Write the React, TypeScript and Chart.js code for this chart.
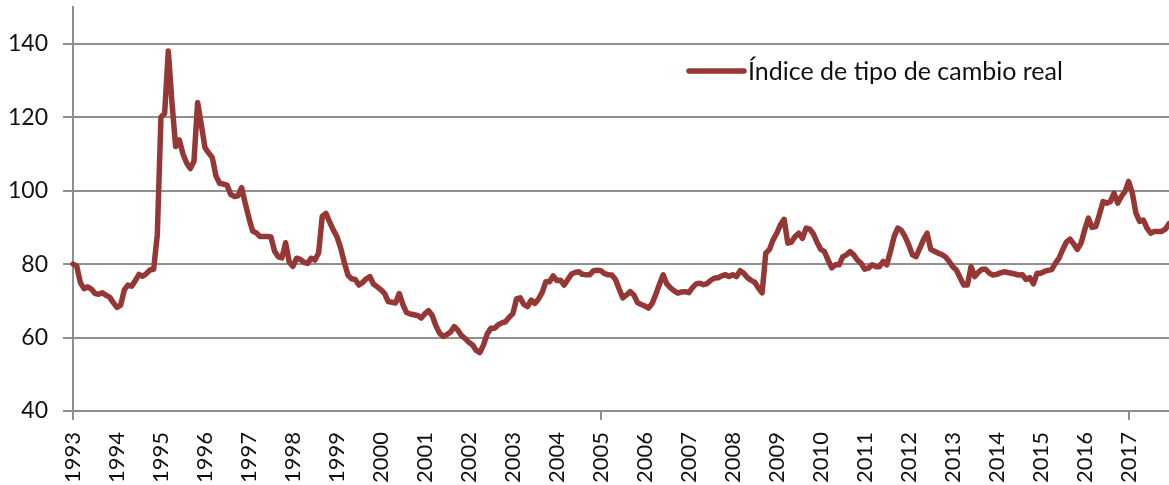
import React, { useEffect, useRef } from "react";
import { Chart, registerables } from "chart.js";

Chart.register(...registerables);

// Year tick labels (one per January)
const yearLabels = [
  "1993", "1994", "1995", "1996", "1997", "1998", "1999", "2000", "2001",
  "2002", "2003", "2004", "2005", "2006", "2007", "2008", "2009", "2010",
  "2011", "2012", "2013", "2014", "2015", "2016", "2017",
];
const monthNames = ["ene", "feb", "mar", "abr", "may", "jun", "jul", "ago", "sep", "oct", "nov", "dic"];

// Monthly categories
const categories = yearLabels.flatMap((y) => monthNames.map((m) => `${m} ${y}`));

const seriesLabel = "Índice de tipo de cambio real";

// Monthly index values (Jan 1993 – Dec 2017)
const realExchangeRateIndex = [
  // 1993
  80, 79.5, 75, 73.3, 73.8, 73.2, 72, 71.8, 72.2, 71.5, 71, 69.5,
  // 1994
  68.2, 68.8, 73, 74.3, 74, 75.5, 77.2, 76.7, 77.4, 78.4, 78.6, 88,
  // 1995
  120, 121, 138, 124, 112, 113.8, 110, 107.5, 106, 108, 124, 118,
  // 1996
  111.7, 110.3, 109, 104, 102, 101.8, 101.5, 99, 98.4, 98.6, 100.8, 96.5,
  // 1997
  92.5, 89, 88.5, 87.5, 87.5, 87.5, 87.4, 83.5, 82, 81.7, 85.8, 80.5,
  // 1998
  79.4, 81.6, 81.3, 80.5, 80.2, 81.6, 81.1, 83, 93, 93.8, 91.5, 89.3,
  // 1999
  87.5, 84.5, 80.5, 77, 76, 75.8, 74.3, 75, 76, 76.6, 74.5, 73.8,
  // 2000
  73, 72, 69.8, 69.6, 69.4, 72, 69, 66.8, 66.4, 66.2, 66, 65.3,
  // 2001
  66.5, 67.3, 66, 63.2, 61.2, 60.3, 60.8, 61.5, 63, 62, 60.5, 59.7,
  // 2002
  58.7, 58, 56.5, 55.9, 58, 61, 62.5, 62.5, 63.5, 64, 64.3, 65.5,
  // 2003
  66.5, 70.5, 70.8, 69, 68.4, 70.2, 69.3, 70.5, 72.3, 75.2, 75.2, 76.8,
  // 2004
  75.5, 75.6, 74.3, 75.8, 77.3, 77.7, 77.9, 77.2, 77.1, 77.1, 78.2, 78.3,
  // 2005
  78.2, 77.4, 77.1, 77, 75.8, 73.2, 70.8, 71.6, 72.5, 71.6, 69.5, 69,
  // 2006
  68.6, 68, 69.3, 71.8, 74.5, 77.1, 74.6, 73.5, 72.7, 72.1, 72.4, 72.5,
  // 2007
  72.2, 73.6, 74.6, 74.8, 74.4, 74.7, 75.6, 76.2, 76.3, 76.8, 77.1, 76.6,
  // 2008
  77.1, 76.6, 78.2, 77.5, 76.3, 75.6, 75, 73.5, 72.2, 83, 84, 86.6,
  // 2009
  88.4, 90.7, 92.2, 85.7, 86, 87.5, 88.4, 87, 89.8, 89.5, 88.2, 85.9,
  // 2010
  84, 83.4, 81.1, 79, 79.8, 79.8, 82, 82.5, 83.4, 82.5, 81.1, 80.2,
  // 2011
  78.6, 78.9, 79.8, 79.3, 79.3, 80.7, 79.8, 83.4, 87.5, 89.8, 89.2, 87.5,
  // 2012
  85.2, 82.5, 82, 84.3, 86.6, 88.4, 84, 83.5, 83, 82.6, 82, 80.8,
  // 2013
  79.3, 78.4, 76.3, 74.3, 74.3, 79.3, 76.6, 77.8, 78.6, 78.6, 77.5, 77,
  // 2014
  77.2, 77.6, 77.9, 77.7, 77.5, 77.3, 77, 77.1, 75.8, 76.3, 74.6, 77.5,
  // 2015
  77.5, 78, 78.3, 78.5, 80.2, 81.6, 83.9, 86, 86.8, 85.5, 84, 85.7,
  // 2016
  89.3, 92.5, 90, 90.2, 93.4, 97, 96.6, 97, 99.3, 96.6, 98.4, 99.8,
  // 2017
  102.5, 99.3, 93.8, 91.6, 92, 89.8, 88.4, 88.9, 88.9, 88.9, 89.5, 91,
];

const yTicks = [40, 60, 80, 100, 120, 140];

const LINE_COLOR = "#953735";
const GRID_COLOR = "#8f8f8f";
const TEXT_COLOR = "#111111";
const FONT_FAMILY = "Lato, 'Open Sans', 'DejaVu Sans', sans-serif";
const FONT_SIZE = 22;
const LEGEND_FONT_SIZE = 25;

const insideLegend = {
  id: "insideLegend",
  afterDatasetsDraw(chart: any) {
    const { ctx, chartArea } = chart;
    const ds = chart.data.datasets[0];
    const x0 = chartArea.left + 616;
    const x1 = chartArea.left + 671;
    const y = chartArea.top + 64;
    ctx.save();
    ctx.strokeStyle = ds.borderColor;
    ctx.lineWidth = 5.5;
    ctx.lineCap = "round";
    ctx.beginPath();
    ctx.moveTo(x0, y);
    ctx.lineTo(x1, y);
    ctx.stroke();
    ctx.fillStyle = TEXT_COLOR;
    ctx.font = `${LEGEND_FONT_SIZE}px ${FONT_FAMILY}`;
    ctx.textAlign = "left";
    ctx.textBaseline = "middle";
    ctx.fillText(ds.label, x1 + 4, y + 1);
    ctx.restore();
  },
};

export default function App() {
  const canvasRef = useRef<HTMLCanvasElement | null>(null);

  useEffect(() => {
    const canvas = canvasRef.current;
    if (!canvas) return;
    const chart = new Chart(canvas, {
      type: "line",
      data: {
        labels: categories,
        datasets: [
          {
            label: seriesLabel,
            data: realExchangeRateIndex,
            borderColor: LINE_COLOR,
            backgroundColor: LINE_COLOR,
            borderWidth: 5.5,
            pointRadius: 0,
            tension: 0,
            borderJoinStyle: "round",
            borderCapStyle: "round",
            fill: false,
          },
        ],
      },
      options: {
        responsive: false,
        animation: false,
        layout: { padding: { top: 7, right: 0, left: 0, bottom: 0 } },
        plugins: {
          legend: { display: false },
          tooltip: { enabled: false },
        },
        scales: {
          x: {
            type: "category",
            offset: false,
            grid: {
              display: true,
              drawOnChartArea: false,
              drawTicks: true,
              tickLength: 9,
              lineWidth: 2,
              color: (ctx: any) => (ctx.index % 12 === 0 ? GRID_COLOR : "rgba(0,0,0,0)"),
            },
            border: { display: true, color: GRID_COLOR, width: 2 },
            ticks: {
              autoSkip: false,
              minRotation: 90,
              maxRotation: 90,
              padding: 12,
              color: TEXT_COLOR,
              font: { family: FONT_FAMILY, size: FONT_SIZE },
              callback: (_v: any, i: number) => (i % 12 === 0 ? yearLabels[i / 12] : null),
            },
            afterFit: (s: any) => {
              s.height = 74;
              s.paddingLeft = 0;
              s.paddingRight = 0;
            },
          },
          y: {
            type: "linear",
            min: 40,
            max: 150,
            grid: {
              display: true,
              drawTicks: true,
              tickLength: 10,
              lineWidth: 2,
              color: GRID_COLOR,
            },
            border: { display: true, color: GRID_COLOR, width: 2 },
            afterBuildTicks: (s: any) => {
              s.ticks = yTicks.map((v) => ({ value: v }));
            },
            ticks: {
              padding: 15,
              color: TEXT_COLOR,
              font: { family: FONT_FAMILY, size: FONT_SIZE + 1 },
              callback: (v: any) => String(v),
            },
            afterFit: (s: any) => {
              s.width = 73;
              s.paddingTop = 0;
              s.paddingBottom = 0;
            },
          },
        },
      },
      plugins: [insideLegend],
    });
    return () => chart.destroy();
  }, []);

  return (
    <div style={{ position: "absolute", left: 0, top: 0, width: 1169, height: 485, background: "#fff" }}>
      <canvas ref={canvasRef} width={1169} height={485} style={{ display: "block" }} />
    </div>
  );
}
